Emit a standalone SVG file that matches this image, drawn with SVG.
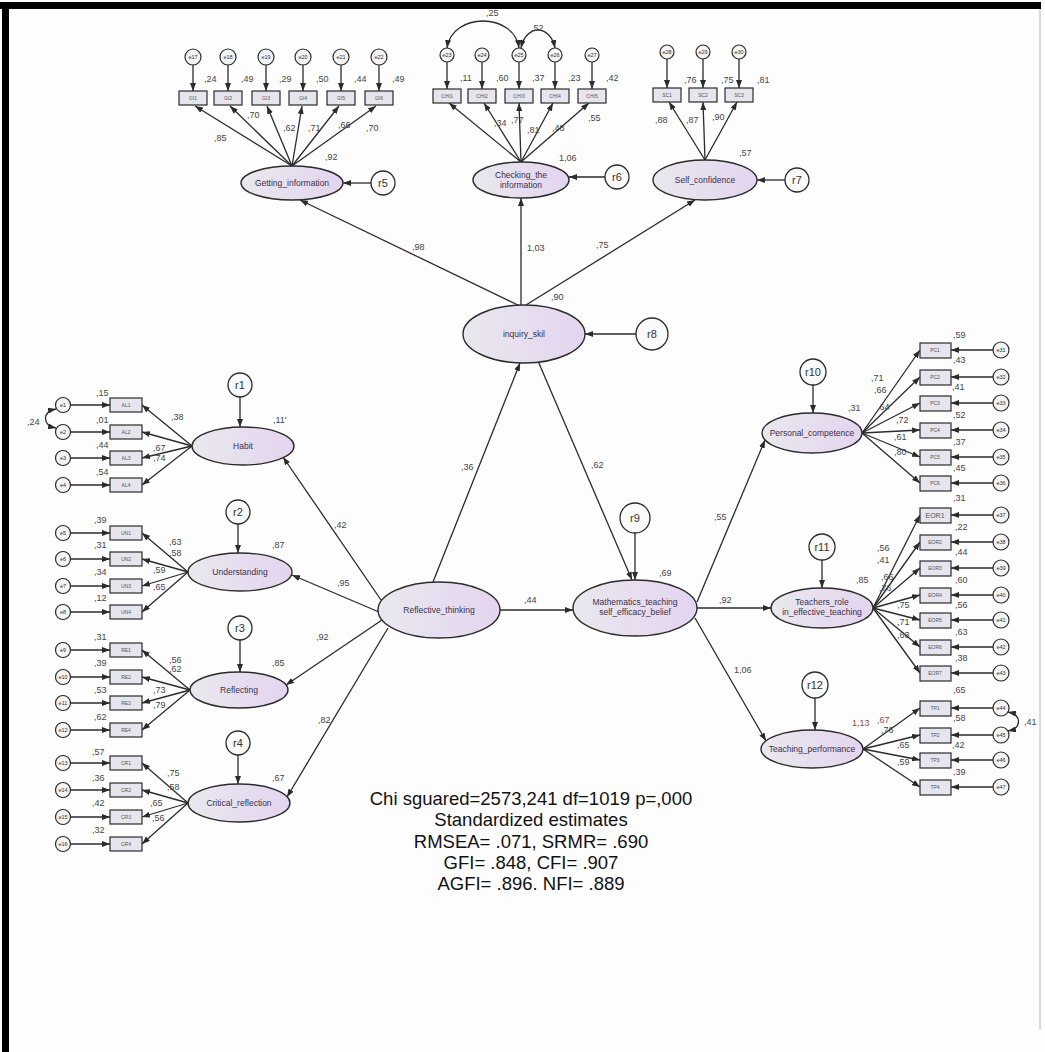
<svg xmlns="http://www.w3.org/2000/svg" width="1045" height="1052" viewBox="0 0 1045 1052">
<style>
.ln{stroke:#2b2b2b;stroke-width:1.3;fill:none}
.ar{stroke:#2b2b2b;stroke-width:1.3;fill:none;marker-end:url(#ah)}
.cv{stroke:#2b2b2b;stroke-width:1.3;fill:none;marker-start:url(#ah);marker-end:url(#ah)}
.lat{fill:url(#lg);stroke:#2b2b2b;stroke-width:1.4}
.obs{fill:#e6e4ec;stroke:#2b2b2b;stroke-width:1.2}
.err{fill:#f4f4f4;stroke:#2b2b2b;stroke-width:1.2}
.res{fill:#fafafa;stroke:#2b2b2b;stroke-width:1.3}
.num{font-family:"Liberation Sans",Arial,sans-serif;font-size:9px;fill:#444}
.lt{font-family:"Liberation Sans",Arial,sans-serif;font-size:8.5px;fill:#3a3050;text-anchor:middle}
.bl{font-family:"Liberation Sans",Arial,sans-serif;font-size:5px;fill:#555;text-anchor:middle}
.el{font-family:"Liberation Sans",Arial,sans-serif;font-size:5.5px;fill:#333;text-anchor:middle}
.rl{font-family:"Liberation Sans",Arial,sans-serif;font-size:11px;fill:#333;text-anchor:middle}
.fit{font-family:"Liberation Sans",Arial,sans-serif;font-size:18.5px;fill:#111;text-anchor:middle}
</style>
<defs>
<marker id="ah" viewBox="0 0 8 6" refX="8" refY="3" markerWidth="8" markerHeight="6" markerUnits="userSpaceOnUse" orient="auto-start-reverse">
<path d="M0,0 L8,3 L0,6 z" fill="#2b2b2b"/>
</marker>
<linearGradient id="lg" x1="0" y1="0" x2="1" y2="0">
<stop offset="0" stop-color="#e9e8ee"/>
<stop offset="1" stop-color="#e4d4ef"/>
</linearGradient>
</defs>
<rect x="0" y="0" width="1045" height="1052" fill="#fdfdfd"/>
<rect x="0" y="2" width="1041" height="7" fill="#000"/>
<rect x="2" y="2" width="7" height="1050" fill="#000"/>
<line x1="1040" y1="9" x2="1040" y2="1030" stroke="#cfcfcf" stroke-width="1.5"/>

<g id="connectors">
<path class="ar" d="M193,65 L193,91"/><path class="ar" d="M228,65 L228,91"/><path class="ar" d="M266,65 L266,91"/>
<path class="ar" d="M303,65 L303,91"/><path class="ar" d="M341,65 L341,91"/><path class="ar" d="M379,65 L379,91"/>
<path class="ar" d="M292,166 L195,106"/><path class="ar" d="M292,166 L230,106"/><path class="ar" d="M292,166 L267,106"/>
<path class="ar" d="M292,166 L302,106"/><path class="ar" d="M292,166 L339,106"/><path class="ar" d="M292,166 L376,106"/>
<path class="ar" d="M371,183 L343,183"/>
<path class="ar" d="M447,62 L447,89"/><path class="ar" d="M482,62 L482,89"/><path class="ar" d="M519,62 L519,89"/>
<path class="ar" d="M555,62 L555,89"/><path class="ar" d="M592,62 L592,89"/>
<path class="ar" d="M521,162 L449,103"/><path class="ar" d="M521,162 L484,103"/><path class="ar" d="M521,162 L519,103"/>
<path class="ar" d="M521,162 L553,103"/><path class="ar" d="M521,162 L589,103"/>
<path class="cv" d="M447,48 C452,12 514,12 519,48"/>
<path class="cv" d="M521,48 C526,24 550,24 555,48"/>
<path class="ar" d="M605,177 L569,177"/>
<path class="ar" d="M667,59 L667,88"/><path class="ar" d="M703,59 L703,88"/><path class="ar" d="M739,59 L739,88"/>
<path class="ar" d="M705,160 L669,102"/><path class="ar" d="M705,160 L703,102"/><path class="ar" d="M705,160 L737,102"/>
<path class="ar" d="M785,180 L757,180"/>
<path class="ar" d="M520,306 L300,200"/>
<path class="ar" d="M521,305 L521,198"/>
<path class="ar" d="M526,305 L695,200"/>
<path class="ar" d="M636,334 L585,334"/>
<path class="ar" d="M433,582 L520,363"/>
<path class="ar" d="M538,361 L632,580"/>
<path class="ar" d="M635,533 L635,580"/>
<path class="ar" d="M500,610 L573,610"/>
<path class="ar" d="M381,600 L283,457"/>
<path class="ar" d="M379,612 L292,575"/>
<path class="ar" d="M382,620 L286,685"/>
<path class="ar" d="M388,628 L287,797"/>
<path class="ar" d="M240,397 L240,427"/>
<path class="ar" d="M192,446 L142,405"/><path class="ar" d="M192,446 L142,432"/><path class="ar" d="M192,446 L142,458"/><path class="ar" d="M192,446 L142,485"/>
<path class="ar" d="M71,405 L110,405"/><path class="ar" d="M71,432 L110,432"/><path class="ar" d="M71,458 L110,458"/><path class="ar" d="M71,485 L110,485"/>
<path class="cv" d="M56,409 C42,412 42,425 56,428"/>
<path class="ar" d="M238,524 L238,553"/>
<path class="ar" d="M188,572 L142,533"/><path class="ar" d="M188,572 L142,559"/><path class="ar" d="M188,572 L142,586"/><path class="ar" d="M188,572 L142,612"/>
<path class="ar" d="M71,533 L110,533"/><path class="ar" d="M71,559 L110,559"/><path class="ar" d="M71,586 L110,586"/><path class="ar" d="M71,612 L110,612"/>
<path class="ar" d="M240,640 L240,672"/>
<path class="ar" d="M190,690 L142,650"/><path class="ar" d="M190,690 L142,677"/><path class="ar" d="M190,690 L142,703"/><path class="ar" d="M190,690 L142,730"/>
<path class="ar" d="M71,650 L110,650"/><path class="ar" d="M71,677 L110,677"/><path class="ar" d="M71,703 L110,703"/><path class="ar" d="M71,730 L110,730"/>
<path class="ar" d="M238,755 L238,784"/>
<path class="ar" d="M188,803 L142,763"/><path class="ar" d="M188,803 L142,790"/><path class="ar" d="M188,803 L142,817"/><path class="ar" d="M188,803 L142,844"/>
<path class="ar" d="M71,763 L110,763"/><path class="ar" d="M71,790 L110,790"/><path class="ar" d="M71,817 L110,817"/><path class="ar" d="M71,844 L110,844"/>
<path class="ar" d="M697,602 L765,440"/>
<path class="ar" d="M697,608 L771,608"/>
<path class="ar" d="M695,618 L766,741"/>
<path class="ar" d="M813,385 L813,413"/>
<path class="ar" d="M862,433 L920,350"/><path class="ar" d="M862,433 L920,377"/><path class="ar" d="M862,433 L920,403"/>
<path class="ar" d="M862,433 L920,430"/><path class="ar" d="M862,433 L920,457"/><path class="ar" d="M862,433 L920,483"/>
<path class="ar" d="M993,350 L951,350"/><path class="ar" d="M993,377 L951,377"/><path class="ar" d="M993,403 L951,403"/>
<path class="ar" d="M993,430 L951,430"/><path class="ar" d="M993,457 L951,457"/><path class="ar" d="M993,483 L951,483"/>
<path class="ar" d="M822,560 L822,588"/>
<path class="ar" d="M873,608 L920,515"/><path class="ar" d="M873,608 L920,542"/><path class="ar" d="M873,608 L920,568"/><path class="ar" d="M873,608 L920,595"/>
<path class="ar" d="M873,608 L920,620"/><path class="ar" d="M873,608 L920,647"/><path class="ar" d="M873,608 L920,673"/>
<path class="ar" d="M993,515 L951,515"/><path class="ar" d="M993,542 L951,542"/><path class="ar" d="M993,568 L951,568"/><path class="ar" d="M993,595 L951,595"/>
<path class="ar" d="M993,620 L951,620"/><path class="ar" d="M993,647 L951,647"/><path class="ar" d="M993,673 L951,673"/>
<path class="ar" d="M815,698 L815,730"/>
<path class="ar" d="M863,749 L920,708"/><path class="ar" d="M863,749 L920,735"/><path class="ar" d="M863,749 L920,760"/><path class="ar" d="M863,749 L920,787"/>
<path class="ar" d="M993,708 L951,708"/><path class="ar" d="M993,735 L951,735"/><path class="ar" d="M993,760 L951,760"/><path class="ar" d="M993,787 L951,787"/>
<path class="cv" d="M1008,712 C1022,715 1022,728 1008,731"/>
</g>

<g id="getting_information"><ellipse class="lat" cx="292" cy="183" rx="51" ry="17"/><text class="lt" x="292" y="186">Getting_information</text></g>
<g id="checking"><ellipse class="lat" cx="521" cy="180" rx="48" ry="18"/><text class="lt" x="521" y="178">Checking_the</text><text class="lt" x="521" y="188">information</text></g>
<g id="self_confidence"><ellipse class="lat" cx="705" cy="180" rx="52" ry="20"/><text class="lt" x="705" y="183">Self_confidence</text></g>
<g id="inquiry_skil"><ellipse class="lat" cx="524" cy="334" rx="61" ry="29"/><text class="lt" x="524" y="337">inquiry_skil</text></g>
<g id="reflective_thinking"><ellipse class="lat" cx="439" cy="610" rx="61" ry="28"/><text class="lt" x="439" y="613">Reflective_thinking</text></g>
<g id="math_teaching"><ellipse class="lat" cx="635" cy="608" rx="62" ry="28"/><text class="lt" x="635" y="605">Mathematics_teaching</text><text class="lt" x="635" y="615">self_efficacy_belief</text></g>
<g id="habit"><ellipse class="lat" cx="243" cy="446" rx="51" ry="19"/><text class="lt" x="243" y="449">Habit</text></g>
<g id="understanding"><ellipse class="lat" cx="240" cy="572" rx="52" ry="19"/><text class="lt" x="240" y="575">Understanding</text></g>
<g id="reflecting"><ellipse class="lat" cx="239" cy="690" rx="49" ry="18"/><text class="lt" x="239" y="693">Reflecting</text></g>
<g id="critical_reflection"><ellipse class="lat" cx="239" cy="803" rx="51" ry="19"/><text class="lt" x="239" y="806">Critical_reflection</text></g>
<g id="personal_competence"><ellipse class="lat" cx="812" cy="433" rx="50" ry="20"/><text class="lt" x="812" y="436">Personal_competence</text></g>
<g id="teachers_role"><ellipse class="lat" cx="822" cy="608" rx="51" ry="20"/><text class="lt" x="822" y="605">Teachers_role</text><text class="lt" x="822" y="615">in_effective_teaching</text></g>
<g id="teaching_performance"><ellipse class="lat" cx="812" cy="749" rx="51" ry="19"/><text class="lt" x="812" y="752">Teaching_performance</text></g>

<g id="r1"><circle class="res" cx="240" cy="385" r="12"/><text class="rl" x="240" y="389">r1</text></g>
<g id="r2"><circle class="res" cx="238" cy="512" r="12"/><text class="rl" x="238" y="516">r2</text></g>
<g id="r3"><circle class="res" cx="240" cy="628" r="12"/><text class="rl" x="240" y="632">r3</text></g>
<g id="r4"><circle class="res" cx="238" cy="743" r="12"/><text class="rl" x="238" y="747">r4</text></g>
<g id="r5"><circle class="res" cx="383" cy="183" r="12"/><text class="rl" x="383" y="187">r5</text></g>
<g id="r6"><circle class="res" cx="617" cy="177" r="12"/><text class="rl" x="617" y="181">r6</text></g>
<g id="r7"><circle class="res" cx="797" cy="180" r="12"/><text class="rl" x="797" y="184">r7</text></g>
<g id="r8"><circle class="res" cx="652" cy="334" r="16"/><text class="rl" x="652" y="338">r8</text></g>
<g id="r9"><circle class="res" cx="635" cy="518" r="15"/><text class="rl" x="635" y="522">r9</text></g>
<g id="r10"><circle class="res" cx="813" cy="372" r="13"/><text class="rl" x="813" y="376">r10</text></g>
<g id="r11"><circle class="res" cx="822" cy="547" r="13"/><text class="rl" x="822" y="551">r11</text></g>
<g id="r12"><circle class="res" cx="815" cy="685" r="13"/><text class="rl" x="815" y="689">r12</text></g>

<g id="obs_top">
<g id="gi1"><rect class="obs" x="179" y="91" width="28" height="14"/><text class="bl" x="193" y="100">GI1</text></g>
<g id="gi2"><rect class="obs" x="214" y="91" width="28" height="14"/><text class="bl" x="228" y="100">GI2</text></g>
<g id="gi3"><rect class="obs" x="252" y="91" width="28" height="14"/><text class="bl" x="266" y="100">GI3</text></g>
<g id="gi4"><rect class="obs" x="289" y="91" width="28" height="14"/><text class="bl" x="303" y="100">GI4</text></g>
<g id="gi5"><rect class="obs" x="327" y="91" width="28" height="14"/><text class="bl" x="341" y="100">GI5</text></g>
<g id="gi6"><rect class="obs" x="365" y="91" width="28" height="14"/><text class="bl" x="379" y="100">GI6</text></g>
<g id="ci1"><rect class="obs" x="433" y="89" width="28" height="14"/><text class="bl" x="447" y="98">CHI1</text></g>
<g id="ci2"><rect class="obs" x="468" y="89" width="28" height="14"/><text class="bl" x="482" y="98">CHI2</text></g>
<g id="ci3"><rect class="obs" x="505" y="89" width="28" height="14"/><text class="bl" x="519" y="98">CHI3</text></g>
<g id="ci4"><rect class="obs" x="541" y="89" width="28" height="14"/><text class="bl" x="555" y="98">CHI4</text></g>
<g id="ci5"><rect class="obs" x="578" y="89" width="28" height="14"/><text class="bl" x="592" y="98">CHI5</text></g>
<g id="sc1"><rect class="obs" x="653" y="88" width="28" height="14"/><text class="bl" x="667" y="97">SC1</text></g>
<g id="sc2"><rect class="obs" x="689" y="88" width="28" height="14"/><text class="bl" x="703" y="97">SC2</text></g>
<g id="sc3"><rect class="obs" x="725" y="88" width="28" height="14"/><text class="bl" x="739" y="97">SC3</text></g>
</g>
<g id="err_top">
<g><circle class="err" cx="193" cy="57" r="8"/><text class="el" x="193" y="59">e17</text></g>
<g><circle class="err" cx="228" cy="57" r="8"/><text class="el" x="228" y="59">e18</text></g>
<g><circle class="err" cx="266" cy="57" r="8"/><text class="el" x="266" y="59">e19</text></g>
<g><circle class="err" cx="303" cy="57" r="8"/><text class="el" x="303" y="59">e20</text></g>
<g><circle class="err" cx="341" cy="57" r="8"/><text class="el" x="341" y="59">e21</text></g>
<g><circle class="err" cx="379" cy="57" r="8"/><text class="el" x="379" y="59">e22</text></g>
<g><circle class="err" cx="447" cy="55" r="7"/><text class="el" x="447" y="57">e23</text></g>
<g><circle class="err" cx="482" cy="55" r="7"/><text class="el" x="482" y="57">e24</text></g>
<g><circle class="err" cx="519" cy="55" r="7"/><text class="el" x="519" y="57">e25</text></g>
<g><circle class="err" cx="555" cy="55" r="7"/><text class="el" x="555" y="57">e26</text></g>
<g><circle class="err" cx="592" cy="55" r="7"/><text class="el" x="592" y="57">e27</text></g>
<g><circle class="err" cx="667" cy="52" r="7"/><text class="el" x="667" y="54">e28</text></g>
<g><circle class="err" cx="703" cy="52" r="7"/><text class="el" x="703" y="54">e29</text></g>
<g><circle class="err" cx="739" cy="52" r="7"/><text class="el" x="739" y="54">e30</text></g>
</g>

<g id="obs_left">
<g><rect class="obs" x="110" y="398" width="32" height="14"/><text class="bl" x="126" y="407">AL1</text></g>
<g><rect class="obs" x="110" y="425" width="32" height="14"/><text class="bl" x="126" y="434">AL2</text></g>
<g><rect class="obs" x="110" y="451" width="32" height="14"/><text class="bl" x="126" y="460">AL3</text></g>
<g><rect class="obs" x="110" y="478" width="32" height="14"/><text class="bl" x="126" y="487">AL4</text></g>
<g><rect class="obs" x="110" y="526" width="32" height="14"/><text class="bl" x="126" y="535">UN1</text></g>
<g><rect class="obs" x="110" y="552" width="32" height="14"/><text class="bl" x="126" y="561">UN2</text></g>
<g><rect class="obs" x="110" y="579" width="32" height="14"/><text class="bl" x="126" y="588">UN3</text></g>
<g><rect class="obs" x="110" y="605" width="32" height="14"/><text class="bl" x="126" y="614">UN4</text></g>
<g><rect class="obs" x="110" y="643" width="32" height="14"/><text class="bl" x="126" y="652">RE1</text></g>
<g><rect class="obs" x="110" y="670" width="32" height="14"/><text class="bl" x="126" y="679">RE2</text></g>
<g><rect class="obs" x="110" y="696" width="32" height="14"/><text class="bl" x="126" y="705">RE3</text></g>
<g><rect class="obs" x="110" y="723" width="32" height="14"/><text class="bl" x="126" y="732">RE4</text></g>
<g><rect class="obs" x="110" y="756" width="32" height="14"/><text class="bl" x="126" y="765">CR1</text></g>
<g><rect class="obs" x="110" y="783" width="32" height="14"/><text class="bl" x="126" y="792">CR2</text></g>
<g><rect class="obs" x="110" y="810" width="32" height="14"/><text class="bl" x="126" y="819">CR3</text></g>
<g><rect class="obs" x="110" y="837" width="32" height="14"/><text class="bl" x="126" y="846">CR4</text></g>
</g>
<g id="err_left">
<g><circle class="err" cx="63" cy="405" r="7.5"/><text class="el" x="63" y="407">e1</text></g>
<g><circle class="err" cx="63" cy="432" r="7.5"/><text class="el" x="63" y="434">e2</text></g>
<g><circle class="err" cx="63" cy="458" r="7.5"/><text class="el" x="63" y="460">e3</text></g>
<g><circle class="err" cx="63" cy="485" r="7.5"/><text class="el" x="63" y="487">e4</text></g>
<g><circle class="err" cx="63" cy="533" r="7.5"/><text class="el" x="63" y="535">e5</text></g>
<g><circle class="err" cx="63" cy="559" r="7.5"/><text class="el" x="63" y="561">e6</text></g>
<g><circle class="err" cx="63" cy="586" r="7.5"/><text class="el" x="63" y="588">e7</text></g>
<g><circle class="err" cx="63" cy="612" r="7.5"/><text class="el" x="63" y="614">e8</text></g>
<g><circle class="err" cx="63" cy="650" r="7.5"/><text class="el" x="63" y="652">e9</text></g>
<g><circle class="err" cx="63" cy="677" r="7.5"/><text class="el" x="63" y="679">e10</text></g>
<g><circle class="err" cx="63" cy="703" r="7.5"/><text class="el" x="63" y="705">e11</text></g>
<g><circle class="err" cx="63" cy="730" r="7.5"/><text class="el" x="63" y="732">e12</text></g>
<g><circle class="err" cx="63" cy="763" r="7.5"/><text class="el" x="63" y="765">e13</text></g>
<g><circle class="err" cx="63" cy="790" r="7.5"/><text class="el" x="63" y="792">e14</text></g>
<g><circle class="err" cx="63" cy="817" r="7.5"/><text class="el" x="63" y="819">e15</text></g>
<g><circle class="err" cx="63" cy="844" r="7.5"/><text class="el" x="63" y="846">e16</text></g>
</g>

<g id="obs_right">
<g><rect class="obs" x="920" y="343" width="31" height="15"/><text class="bl" x="935" y="352">PC1</text></g>
<g><rect class="obs" x="920" y="370" width="31" height="15"/><text class="bl" x="935" y="379">PC2</text></g>
<g><rect class="obs" x="920" y="396" width="31" height="15"/><text class="bl" x="935" y="405">PC3</text></g>
<g><rect class="obs" x="920" y="423" width="31" height="15"/><text class="bl" x="935" y="432">PC4</text></g>
<g><rect class="obs" x="920" y="450" width="31" height="15"/><text class="bl" x="935" y="459">PC5</text></g>
<g><rect class="obs" x="920" y="476" width="31" height="15"/><text class="bl" x="935" y="485">PC6</text></g>
<g><rect class="obs" x="920" y="508" width="31" height="15"/><text class="bl" x="935" y="518" style="font-size:7px">EOR1</text></g>
<g><rect class="obs" x="920" y="535" width="31" height="15"/><text class="bl" x="935" y="544">EOR2</text></g>
<g><rect class="obs" x="920" y="561" width="31" height="15"/><text class="bl" x="935" y="570">EOR3</text></g>
<g><rect class="obs" x="920" y="588" width="31" height="15"/><text class="bl" x="935" y="597">EOR4</text></g>
<g><rect class="obs" x="920" y="613" width="31" height="15"/><text class="bl" x="935" y="622">EOR5</text></g>
<g><rect class="obs" x="920" y="640" width="31" height="15"/><text class="bl" x="935" y="649">EOR6</text></g>
<g><rect class="obs" x="920" y="666" width="31" height="15"/><text class="bl" x="935" y="675">EOR7</text></g>
<g><rect class="obs" x="920" y="701" width="31" height="15"/><text class="bl" x="935" y="710">TP1</text></g>
<g><rect class="obs" x="920" y="728" width="31" height="15"/><text class="bl" x="935" y="737">TP2</text></g>
<g><rect class="obs" x="920" y="753" width="31" height="15"/><text class="bl" x="935" y="762">TP3</text></g>
<g><rect class="obs" x="920" y="780" width="31" height="15"/><text class="bl" x="935" y="789">TP4</text></g>
</g>
<g id="err_right">
<g><circle class="err" cx="1001" cy="350" r="8"/><text class="el" x="1001" y="352">e31</text></g>
<g><circle class="err" cx="1001" cy="377" r="8"/><text class="el" x="1001" y="379">e32</text></g>
<g><circle class="err" cx="1001" cy="403" r="8"/><text class="el" x="1001" y="405">e33</text></g>
<g><circle class="err" cx="1001" cy="430" r="8"/><text class="el" x="1001" y="432">e34</text></g>
<g><circle class="err" cx="1001" cy="457" r="8"/><text class="el" x="1001" y="459">e35</text></g>
<g><circle class="err" cx="1001" cy="483" r="8"/><text class="el" x="1001" y="485">e36</text></g>
<g><circle class="err" cx="1001" cy="515" r="8"/><text class="el" x="1001" y="517">e37</text></g>
<g><circle class="err" cx="1001" cy="542" r="8"/><text class="el" x="1001" y="544">e38</text></g>
<g><circle class="err" cx="1001" cy="568" r="8"/><text class="el" x="1001" y="570">e39</text></g>
<g><circle class="err" cx="1001" cy="595" r="8"/><text class="el" x="1001" y="597">e40</text></g>
<g><circle class="err" cx="1001" cy="620" r="8"/><text class="el" x="1001" y="622">e41</text></g>
<g><circle class="err" cx="1001" cy="647" r="8"/><text class="el" x="1001" y="649">e42</text></g>
<g><circle class="err" cx="1001" cy="673" r="8"/><text class="el" x="1001" y="675">e43</text></g>
<g><circle class="err" cx="1001" cy="708" r="8"/><text class="el" x="1001" y="710">e44</text></g>
<g><circle class="err" cx="1001" cy="735" r="8"/><text class="el" x="1001" y="737">e45</text></g>
<g><circle class="err" cx="1001" cy="760" r="8"/><text class="el" x="1001" y="762">e46</text></g>
<g><circle class="err" cx="1001" cy="787" r="8"/><text class="el" x="1001" y="789">e47</text></g>
</g>

<g id="estimates">
<text class="num" x="204" y="82">,24</text><text class="num" x="241" y="82">,49</text><text class="num" x="279" y="82">,29</text>
<text class="num" x="316" y="82">,50</text><text class="num" x="354" y="82">,44</text><text class="num" x="392" y="82">,49</text>
<text class="num" x="214" y="141">,85</text><text class="num" x="247" y="118">,70</text><text class="num" x="283" y="131">,62</text>
<text class="num" x="308" y="131">,71</text><text class="num" x="338" y="128">,66</text><text class="num" x="366" y="131">,70</text>
<text class="num" x="325" y="160">,92</text>
<text class="num" x="460" y="81">,11</text><text class="num" x="496" y="81">,60</text><text class="num" x="532" y="81">,37</text>
<text class="num" x="568" y="81">,23</text><text class="num" x="606" y="81">,42</text>
<text class="num" x="494" y="126">,34</text><text class="num" x="511" y="123">,77</text><text class="num" x="527" y="133">,81</text>
<text class="num" x="552" y="131">,48</text><text class="num" x="588" y="121">,55</text>
<text class="num" x="559" y="161">1,06</text>
<text class="num" x="486" y="16">,25</text><text class="num" x="531" y="31">,52</text>
<text class="num" x="684" y="83">,76</text><text class="num" x="721" y="83">,75</text><text class="num" x="757" y="83">,81</text>
<text class="num" x="655" y="123">,88</text><text class="num" x="686" y="123">,87</text><text class="num" x="712" y="120">,90</text>
<text class="num" x="739" y="156">,57</text>
<text class="num" x="412" y="250">,98</text><text class="num" x="527" y="251">1,03</text><text class="num" x="596" y="248">,75</text>
<text class="num" x="551" y="300">,90</text>
<text class="num" x="461" y="470">,36</text><text class="num" x="591" y="468">,62</text>
<text class="num" x="659" y="576">,69</text><text class="num" x="524" y="603">,44</text>
<text class="num" x="714" y="520">,55</text><text class="num" x="719" y="603">,92</text><text class="num" x="734" y="673">1,06</text>
<text class="num" x="334" y="528">,42</text><text class="num" x="337" y="586">,95</text>
<text class="num" x="316" y="640">,92</text><text class="num" x="318" y="723">,82</text>
<text class="num" x="273" y="423">,11'</text>
<text class="num" x="96" y="396">,15</text><text class="num" x="96" y="423">,01</text><text class="num" x="96" y="448">,44</text><text class="num" x="96" y="475">,54</text>
<text class="num" x="171" y="420">,38</text><text class="num" x="153" y="451">,67</text><text class="num" x="153" y="461">,74</text>
<text class="num" x="27" y="425">,24</text>
<text class="num" x="272" y="548">,87</text>
<text class="num" x="94" y="523">,39</text><text class="num" x="94" y="548">,31</text><text class="num" x="94" y="575">,34</text><text class="num" x="94" y="601">,12</text>
<text class="num" x="169" y="545">,63</text><text class="num" x="169" y="556">,58</text><text class="num" x="153" y="573">,59</text><text class="num" x="153" y="590">,65</text>
<text class="num" x="272" y="666">,85</text>
<text class="num" x="94" y="640">,31</text><text class="num" x="94" y="666">,39</text><text class="num" x="94" y="693">,53</text><text class="num" x="94" y="720">,62</text>
<text class="num" x="169" y="663">,56</text><text class="num" x="169" y="672">,62</text><text class="num" x="153" y="693">,73</text><text class="num" x="153" y="708">,79</text>
<text class="num" x="272" y="781">,67</text>
<text class="num" x="92" y="755">,57</text><text class="num" x="92" y="781">,36</text><text class="num" x="92" y="806">,42</text><text class="num" x="92" y="833">,32</text>
<text class="num" x="167" y="776">,75</text><text class="num" x="167" y="790">,58</text><text class="num" x="150" y="806">,65</text><text class="num" x="152" y="821">,56</text>
<text class="num" x="848" y="411">,31</text>
<text class="num" x="953" y="338">,59</text><text class="num" x="953" y="363">,43</text><text class="num" x="952" y="390">,41</text>
<text class="num" x="953" y="418">,52</text><text class="num" x="953" y="445">,37</text><text class="num" x="953" y="471">,45</text>
<text class="num" x="871" y="381">,71</text><text class="num" x="874" y="393">,66</text><text class="num" x="877" y="410">,64</text>
<text class="num" x="896" y="423">,72</text><text class="num" x="894" y="440">,61</text><text class="num" x="894" y="455">,80</text>
<text class="num" x="856" y="583">,85</text>
<text class="num" x="953" y="501">,31</text><text class="num" x="955" y="530">,22</text><text class="num" x="955" y="555">,44</text><text class="num" x="955" y="583">,60</text>
<text class="num" x="955" y="608">,56</text><text class="num" x="955" y="635">,63</text><text class="num" x="955" y="661">,38</text>
<text class="num" x="877" y="551">,56</text><text class="num" x="877" y="563">,41</text><text class="num" x="881" y="580">,66</text><text class="num" x="879" y="591">,76</text>
<text class="num" x="897" y="608">,75</text><text class="num" x="897" y="625">,71</text><text class="num" x="897" y="638">,63</text>
<text class="num" x="852" y="726" style="fill:#8a4a4a">1,13</text>
<text class="num" x="953" y="693">,65</text><text class="num" x="953" y="721">,58</text><text class="num" x="952" y="748">,42</text><text class="num" x="953" y="775">,39</text>
<text class="num" x="877" y="723" style="fill:#8a4a4a">,67</text><text class="num" x="881" y="733">,76</text><text class="num" x="897" y="748">,65</text><text class="num" x="897" y="765">,59</text>
<text class="num" x="1024" y="725">,41</text>
</g>

<g id="fit_text">
<text class="fit" x="531" y="805">Chi sguared=2573,241 df=1019 p=,000</text>
<text class="fit" x="531" y="826">Standardized estimates</text>
<text class="fit" x="531" y="848">RMSEA= .071, SRMR= .690</text>
<text class="fit" x="531" y="869">GFI= .848, CFI= .907</text>
<text class="fit" x="531" y="890">AGFI= .896. NFI= .889</text>
</g>
</svg>
